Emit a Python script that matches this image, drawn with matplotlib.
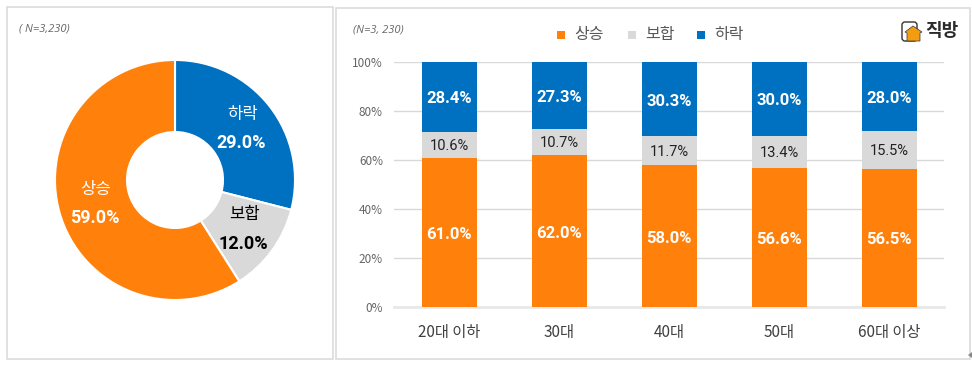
import math
import matplotlib
matplotlib.use('Agg')
import matplotlib.pyplot as plt
from matplotlib.patches import Rectangle, FancyBboxPatch, Polygon

plt.rcParams['font.family'] = ['Noto Sans CJK KR', 'DejaVu Sans']

W, H = 972, 377
ORANGE, GREY, BLUE = '#FF800A', '#D9D9D9', '#0070C0'
NUM = ['Roboto', 'DejaVu Sans']

pie_labels = ['하락', '보합', '상승']
pie_values = [29.0, 12.0, 59.0]
pie_colors = [BLUE, GREY, ORANGE]
pie_text_colors = ['white', 'black', 'white']

age_groups = ['20대 이하', '30대', '40대', '50대', '60대 이상']
rise = [61.0, 62.0, 58.0, 56.6, 56.5]
flat = [10.6, 10.7, 11.7, 13.4, 15.5]
fall = [28.4, 27.3, 30.3, 30.0, 28.0]
y_ticks = [0, 20, 40, 60, 80, 100]
sample_left = '( N=3,230)'
sample_right = '(N=3, 230)'
legend_names = ['상승', '보합', '하락']


def box(x0, y0, x1, y1):
    return [x0 / W, 1 - y1 / H, (x1 - x0) / W, (y1 - y0) / H]


fig = plt.figure(figsize=(W / 100, H / 100), dpi=100, facecolor='white')

# panel frames
for x0, y0, x1, y1 in [(6.5, 6.5, 333, 358.5), (335.5, 7.5, 970, 359)]:
    fig.add_artist(Rectangle((x0 / W, 1 - y1 / H), (x1 - x0) / W, (y1 - y0) / H,
                             transform=fig.transFigure, fc='white', ec='#DCDCDC', lw=1.2, zorder=-1))

# donut
cx, cy, r = 175, 180, 120
ax0 = fig.add_axes(box(cx - r, cy - r, cx + r, cy + r))
wedges, _ = ax0.pie(pie_values, colors=pie_colors, startangle=90, counterclock=False, radius=1,
                    wedgeprops=dict(width=0.6, edgecolor='white', linewidth=1.5))
ax0.set_xlim(-1, 1)
ax0.set_ylim(-1, 1)
cum = 0
for lab, val, tc in zip(pie_labels, pie_values, pie_text_colors):
    mid = math.radians(90 - (cum + val / 2) * 3.6)
    cum += val
    tx, ty = 0.70 * math.cos(mid), 0.70 * math.sin(mid)
    ax0.text(tx + 0.012, ty + 0.12, lab, color=tc, ha='center', va='center', fontsize=12)
    ax0.text(tx, ty - 0.12, f'{val:.1f}%', color=tc, ha='center', va='center', fontsize=13,
             fontweight='bold', family=NUM)

fig.text(19 / W, 1 - 29 / H, sample_left, fontsize=8, style='italic', color='#666666',
         family=['Open Sans'], va='center')
fig.text(353 / W, 1 - 30 / H, sample_right, fontsize=8, style='italic', color='#666666',
         family=['Open Sans'], va='center')

# stacked bars
ax = fig.add_axes(box(394, 62, 944, 307))
x = list(range(len(age_groups)))
bw = 0.5
ax.bar(x, rise, bw, color=ORANGE, zorder=3)
ax.bar(x, flat, bw, bottom=rise, color=GREY, zorder=3)
bot2 = [a + b for a, b in zip(rise, flat)]
ax.bar(x, fall, bw, bottom=bot2, color=BLUE, zorder=3)
for i in x:
    ax.annotate(f'{rise[i]:.1f}%', (i, rise[i] / 2), xytext=(0, -1.5), textcoords='offset points',
                color='white', ha='center', va='center', fontsize=12, fontweight='bold', family=NUM, zorder=4)
    ax.annotate(f'{flat[i]:.1f}%', (i, rise[i] + flat[i] / 2), xytext=(0, -1), textcoords='offset points',
                color='#222222', ha='center', va='center', fontsize=10.5, family=NUM, zorder=4)
    ax.annotate(f'{fall[i]:.1f}%', (i, bot2[i] + fall[i] / 2), xytext=(0, -1.5), textcoords='offset points',
                color='white', ha='center', va='center', fontsize=12, fontweight='bold', family=NUM, zorder=4)
ax.set_xlim(-0.5, 4.5)
ax.set_ylim(0, 100)
ax.set_yticks(y_ticks)
ax.set_yticklabels([f'{v}%' for v in y_ticks], fontsize=8.5, color='#666666')
ax.set_xticks(x)
ax.set_xticklabels(age_groups, fontsize=11, color='#404040')
ax.tick_params(length=0)
ax.tick_params(axis='x', pad=12)
ax.tick_params(axis='y', pad=8)
ax.grid(axis='y', color='#D9D9D9', lw=1, zorder=0)
ax.set_axisbelow(True)
for s in ax.spines.values():
    s.set_visible(False)
ax.axhline(0, color='#E8E8E8', lw=2, zorder=1, clip_on=False)

# legend
for nm, col, lx in zip(legend_names, [ORANGE, GREY, BLUE], [557, 628, 697]):
    fig.add_artist(Rectangle((lx / W, 1 - 39 / H), 8 / W, 8 / H, transform=fig.transFigure, fc=col, ec='none'))
    fig.text((lx + 17) / W, 1 - 34.5 / H, nm, fontsize=11.5, color='#595959', va='center')

# logo
logo = fig.add_axes([0, 0, 1, 1], facecolor='none')
logo.set_xlim(0, W)
logo.set_ylim(H, 0)
logo.axis('off')
logo.add_patch(FancyBboxPatch((902, 22), 15, 19, boxstyle='round,pad=0,rounding_size=3',
                              fc='white', ec='#333333', lw=1))
logo.add_patch(Polygon([(905, 32), (913, 26), (922, 32), (920, 33), (920, 41), (907, 41), (907, 33)],
                       closed=True, fc='#F39C12', ec='#333333', lw=0.5))
fig.text(925 / W, 1 - 31 / H, '직방', fontsize=13, fontweight='bold', color='#2b2b2b', va='center')

# little corner marker
logo.add_patch(Polygon([(968, 355), (972, 352), (972, 358)], closed=True, fc='#888888', ec='none', clip_on=False))

fig.savefig('out.png', dpi=100)
